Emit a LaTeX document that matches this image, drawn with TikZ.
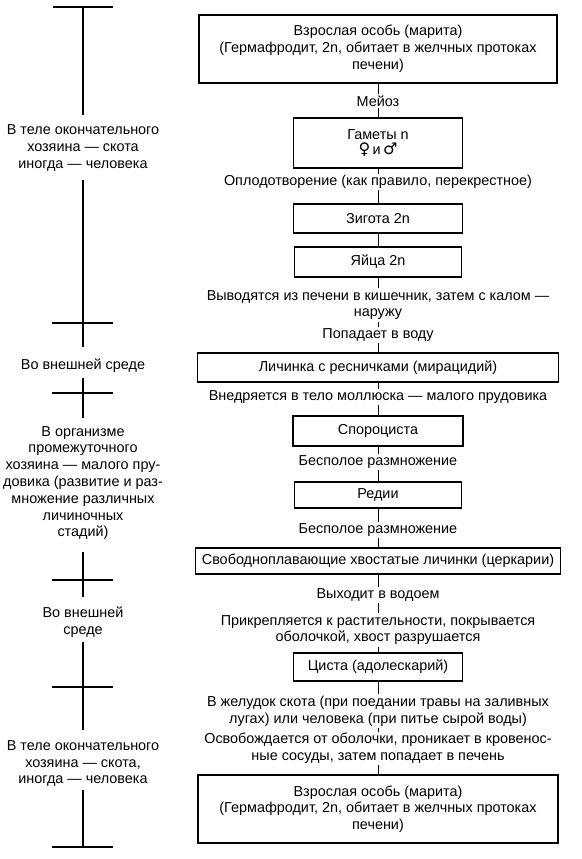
\documentclass[tikz,border=0pt]{standalone}
\usepackage{fontspec}
\setmainfont{Liberation Sans}
\newfontfamily\symfont{DejaVu Sans}
\newcommand\diafont{\fontsize{14.4pt}{16.8pt}\selectfont}
\begin{document}
\begin{tikzpicture}[x=1pt,y=-1pt,
  box/.style={draw, line width=1.6pt, align=center, inner sep=0pt, font=\diafont},
  lbl/.style={align=center, inner sep=1.5pt, font=\diafont},
  side/.style={align=center, inner sep=1pt, font=\diafont},
  conn/.style={line width=0.9pt},
  bar/.style={line width=1.3pt}]
\useasboundingbox (0,0) rectangle (581,859);

% ---------- main flow ----------
\node[box, minimum width=358pt, minimum height=68pt] (b1) at (378,49)
  {Взрослая особь (марита)\\(Гермафродит, 2n, обитает в желчных протоках\\печени)};
\node[lbl] (l1) at (378,101) {Мейоз};
\node[box, minimum width=169pt, minimum height=50pt] (b2) at (378,143)
  {Гаметы n\\[-2pt]{\symfont\bfseries\fontsize{16pt}{16pt}\selectfont ♀}\,и\,{\symfont\bfseries\fontsize{16pt}{16pt}\selectfont ♂}};
\node[lbl] (l2) at (378,182) {Оплодотворение (как правило, перекрестное)};
\node[box, minimum width=169pt, minimum height=29pt] (b3) at (378,218.5) {Зигота 2n};
\node[box, minimum width=167pt, minimum height=30pt] (b4) at (378,262) {Яйца 2n};
\node[lbl] (l3) at (378,305) {Выводятся из печени в кишечник, затем с калом —\\наружу};
\node[lbl] (l4) at (378,335) {Попадает в воду};
\node[box, minimum width=361pt, minimum height=29pt] (b5) at (378,367.5) {Личинка с ресничками (мирацидий)};
\node[lbl] (l5) at (378,397) {Внедряется в тело моллюска — малого прудовика};
\node[box, minimum width=170pt, minimum height=30pt] (b6) at (378,431) {Спороциста};
\node[lbl] (l6) at (378,462) {Бесполое размножение};
\node[box, minimum width=167pt, minimum height=26pt] (b7) at (378,495) {Редии};
\node[lbl] (l7) at (378,530) {Бесполое размножение};
\node[box, minimum width=365pt, minimum height=26pt] (b8) at (378,561) {Свободноплавающие хвостатые личинки (церкарии)};
\node[lbl] (l8) at (378,595) {Выходит в водоем};
\node[lbl] (l9) at (378,630) {Прикрепляется к растительности, покрывается\\оболочкой, хвост разрушается};
\node[box, minimum width=169pt, minimum height=28pt] (b9) at (378,667) {Циста (адолескарий)};
\node[lbl] (l10) at (378,711) {В желудок скота (при поедании травы на заливных\\лугах) или человека (при питье сырой воды)};
\node[lbl] (l11) at (378,748.5) {Освобождается от оболочки, проникает в кровенос-\\ные сосуды, затем попадает в печень};
\node[box, minimum width=360pt, minimum height=68pt] (b10) at (378,809)
  {Взрослая особь (марита)\\(Гермафродит, 2n, обитает в желчных протоках\\печени)};

\draw[conn] (b1) -- (l1);
\draw[conn] (l1) -- (b2);
\draw[conn] (b2) -- (l2);
\draw[conn] (l2) -- (b3);
\draw[conn] (b3) -- (b4);
\draw[conn] (b4) -- (l3);
\draw[conn] (l3) -- (l4);
\draw[conn] (l4) -- (b5);
\draw[conn] (b5) -- (l5);
\draw[conn] (l5) -- (b6);
\draw[conn] (b6) -- (l6);
\draw[conn] (l6) -- (b7);
\draw[conn] (b7) -- (l7);
\draw[conn] (l7) -- (b8);
\draw[conn] (b8) -- (l8);
\draw[conn] (l8) -- (l9);
\draw[conn] (l9) -- (b9);
\draw[conn] (b9) -- (l10);
\draw[conn] (l10) -- (l11);
\draw[conn] (l11) -- (b10);

% ---------- left column ----------
\node[side] (s1) at (83,148) {В теле окончательного\\хозяина — скота\\иногда — человека};
\node[side] (s2) at (83,366) {Во внешней среде};
\node[side] (s3) at (83,483) {В организме\\промежуточного\\хозяина — малого пру-\\довика (развитие и раз-\\множение различных\\личиночных\\стадий)};
\node[side] (s4) at (83,622.5) {Во внешней\\среде};
\node[side] (s5) at (83,763.5) {В теле окончательного\\хозяина — скота,\\иногда — человека};

\coordinate (v0) at (83,7);
\coordinate (v1) at (83,115);
\coordinate (v2) at (83,180);
\coordinate (v3) at (83,347);
\coordinate (v4) at (83,378);
\coordinate (v5) at (83,418);
\coordinate (v6) at (83,552);
\coordinate (v7) at (83,597);
\coordinate (v8) at (83,642);
\coordinate (v9) at (83,730);
\coordinate (v10) at (83,790);
\coordinate (v11) at (83,847);

\draw[bar] (v0) -- (v1);
\draw[bar] (v2) -- (v3);
\draw[bar] (v4) -- (v5);
\draw[bar] (v6) -- (v7);
\draw[bar] (v8) -- (v9);
\draw[bar] (v10) -- (v11);

\coordinate (h0a) at (53,7);   \coordinate (h0b) at (113,7);
\coordinate (h1a) at (52,323); \coordinate (h1b) at (113,323);
\coordinate (h2a) at (52,393); \coordinate (h2b) at (113,393);
\coordinate (h3a) at (52,580); \coordinate (h3b) at (113,580);
\coordinate (h4a) at (52,687); \coordinate (h4b) at (113,687);
\coordinate (h5a) at (52,847); \coordinate (h5b) at (113,847);
\draw[bar] (h0a) -- (h0b);
\draw[bar] (h1a) -- (h1b);
\draw[bar] (h2a) -- (h2b);
\draw[bar] (h3a) -- (h3b);
\draw[bar] (h4a) -- (h4b);
\draw[bar] (h5a) -- (h5b);
\end{tikzpicture}
\end{document}
